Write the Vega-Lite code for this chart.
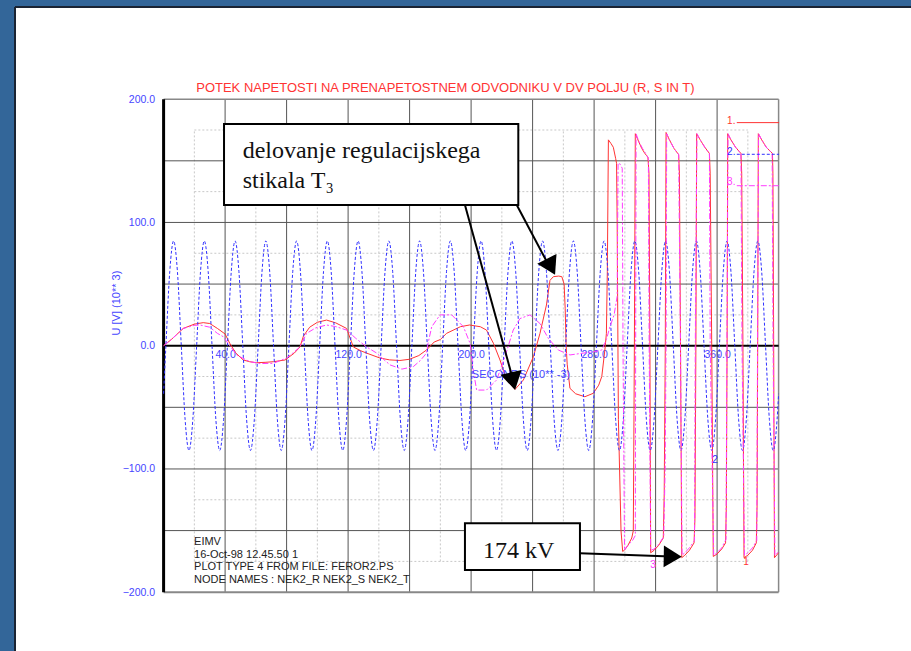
{
"$schema": "https://vega.github.io/schema/vega-lite/v6.json",
"width": 896, "height": 644,
"autosize": {"type": "none"},
"padding": {"left": 15, "top": 7, "right": 0, "bottom": 0},
"background": "#336699",
"config": {"view": {"fill": "white", "stroke": null}},
"datasets": {
"vgrid": [{"t":40},{"t":80},{"t":120},{"t":160},{"t":200},{"t":240},{"t":280},{"t":320},{"t":360}],
"hgrid": [{"v":-150},{"v":-100},{"v":-50},{"v":50},{"v":100},{"v":150}],
"vdot": [{"t":20},{"t":60},{"t":100},{"t":140},{"t":180},{"t":220},{"t":260},{"t":300},{"t":340},{"t":380}],
"hdot": [{"v":-175},{"v":-125},{"v":-75},{"v":-25},{"v":25},{"v":75},{"v":125},{"v":175}],
"blue": [{"t":0,"v":-39},
{"t":1.5,"v":0},{"t":4,"v":60},{"t":6.5,"v":85},{"t":9,"v":60},{"t":11.5,"v":0},{"t":14,"v":-60},{"t":16.5,"v":-85},{"t":19,"v":-60},
{"t":21.5,"v":0},{"t":24,"v":60},{"t":26.5,"v":85},{"t":29,"v":60},{"t":31.5,"v":0},{"t":34,"v":-60},{"t":36.5,"v":-85},{"t":39,"v":-60},
{"t":41.5,"v":0},{"t":44,"v":60},{"t":46.5,"v":85},{"t":49,"v":60},{"t":51.5,"v":0},{"t":54,"v":-60},{"t":56.5,"v":-85},{"t":59,"v":-60},
{"t":61.5,"v":0},{"t":64,"v":60},{"t":66.5,"v":85},{"t":69,"v":60},{"t":71.5,"v":0},{"t":74,"v":-60},{"t":76.5,"v":-85},{"t":79,"v":-60},
{"t":81.5,"v":0},{"t":84,"v":60},{"t":86.5,"v":85},{"t":89,"v":60},{"t":91.5,"v":0},{"t":94,"v":-60},{"t":96.5,"v":-85},{"t":99,"v":-60},
{"t":101.5,"v":0},{"t":104,"v":60},{"t":106.5,"v":85},{"t":109,"v":60},{"t":111.5,"v":0},{"t":114,"v":-60},{"t":116.5,"v":-85},{"t":119,"v":-60},
{"t":121.5,"v":0},{"t":124,"v":60},{"t":126.5,"v":85},{"t":129,"v":60},{"t":131.5,"v":0},{"t":134,"v":-60},{"t":136.5,"v":-85},{"t":139,"v":-60},
{"t":141.5,"v":0},{"t":144,"v":60},{"t":146.5,"v":85},{"t":149,"v":60},{"t":151.5,"v":0},{"t":154,"v":-60},{"t":156.5,"v":-85},{"t":159,"v":-60},
{"t":161.5,"v":0},{"t":164,"v":60},{"t":166.5,"v":85},{"t":169,"v":60},{"t":171.5,"v":0},{"t":174,"v":-60},{"t":176.5,"v":-85},{"t":179,"v":-60},
{"t":181.5,"v":0},{"t":184,"v":60},{"t":186.5,"v":85},{"t":189,"v":60},{"t":191.5,"v":0},{"t":194,"v":-60},{"t":196.5,"v":-85},{"t":199,"v":-60},
{"t":201.5,"v":0},{"t":204,"v":60},{"t":206.5,"v":85},{"t":209,"v":60},{"t":211.5,"v":0},{"t":214,"v":-60},{"t":216.5,"v":-85},{"t":219,"v":-60},
{"t":221.5,"v":0},{"t":224,"v":60},{"t":226.5,"v":85},{"t":229,"v":60},{"t":231.5,"v":0},{"t":234,"v":-60},{"t":236.5,"v":-85},{"t":239,"v":-60},
{"t":241.5,"v":0},{"t":244,"v":60},{"t":246.5,"v":85},{"t":249,"v":60},{"t":251.5,"v":0},{"t":254,"v":-60},{"t":256.5,"v":-85},{"t":259,"v":-60},
{"t":261.5,"v":0},{"t":264,"v":60},{"t":266.5,"v":85},{"t":269,"v":60},{"t":271.5,"v":0},{"t":274,"v":-60},{"t":276.5,"v":-85},{"t":279,"v":-60},
{"t":281.5,"v":0},{"t":284,"v":60},{"t":286.5,"v":85},{"t":289,"v":60},{"t":291.5,"v":0},{"t":294,"v":-60},{"t":296.5,"v":-85},{"t":299,"v":-60},
{"t":301.5,"v":0},{"t":304,"v":60},{"t":306.5,"v":85},{"t":309,"v":60},{"t":311.5,"v":0},{"t":314,"v":-60},{"t":316.5,"v":-85},{"t":319,"v":-60},
{"t":321.5,"v":0},{"t":324,"v":60},{"t":326.5,"v":85},{"t":329,"v":60},{"t":331.5,"v":0},{"t":334,"v":-60},{"t":336.5,"v":-85},{"t":339,"v":-60},
{"t":341.5,"v":0},{"t":344,"v":60},{"t":346.5,"v":85},{"t":349,"v":60},{"t":351.5,"v":0},{"t":354,"v":-60},{"t":356.5,"v":-85},{"t":359,"v":-60},
{"t":361.5,"v":0},{"t":364,"v":60},{"t":366.5,"v":85},{"t":369,"v":60},{"t":371.5,"v":0},{"t":374,"v":-60},{"t":376.5,"v":-85},{"t":379,"v":-60},
{"t":381.5,"v":0},{"t":384,"v":60},{"t":386.5,"v":85},{"t":389,"v":60},{"t":391.5,"v":0},{"t":394,"v":-60},{"t":396.5,"v":-85},{"t":399,"v":-60},
{"t":400,"v":-39}],
"red": [{"t":0,"v":0},{"t":5,"v":5},{"t":12.8,"v":14},{"t":20,"v":17.5},{"t":25.8,"v":18.7},{"t":30,"v":18},{"t":35,"v":14},{"t":40,"v":9.5},{"t":43,"v":2},{"t":47,"v":-6},{"t":51.8,"v":-11.6},{"t":56,"v":-13},{"t":60.5,"v":-13.8},{"t":66,"v":-13.5},{"t":71.4,"v":-13},{"t":79,"v":-11.6},{"t":85,"v":-6},{"t":88.7,"v":-1},{"t":91,"v":8},{"t":95,"v":15},{"t":100,"v":19},{"t":106,"v":20.8},{"t":112,"v":18.5},{"t":119,"v":14},{"t":123.4,"v":-1},{"t":128,"v":-4},{"t":132,"v":-6},{"t":140.7,"v":-10},{"t":147,"v":-11.5},{"t":153.7,"v":-12},{"t":160,"v":-11},{"t":166,"v":-8},{"t":171,"v":-3.5},{"t":176,"v":3},{"t":180,"v":5},{"t":184,"v":10},{"t":193,"v":15.4},{"t":199,"v":16.8},{"t":206,"v":15.4},{"t":210,"v":12.7},{"t":214.5,"v":2},{"t":218.8,"v":-11.6},{"t":223,"v":-27.8},{"t":228.6,"v":-35.4},{"t":234,"v":-27.8},{"t":240.5,"v":-9},{"t":244.8,"v":10},{"t":249,"v":33},{"t":251.3,"v":53},{"t":253.5,"v":56},{"t":257,"v":56.5},{"t":259,"v":56},{"t":260.5,"v":50},{"t":261.2,"v":30},{"t":261.8,"v":0},{"t":262.5,"v":-15},{"t":264.3,"v":-34.6},{"t":268,"v":-39},{"t":274,"v":-41.4},{"t":279.5,"v":-38.6},{"t":283,"v":-32},{"t":285,"v":-25},{"t":287,"v":-3.5},{"t":288,"v":10},{"t":288.6,"v":60},{"t":289.3,"v":167},{"t":291,"v":164},{"t":292.5,"v":161},{"t":294,"v":152},{"t":294.6,"v":148},{"t":295,"v":100},{"t":295.8,"v":-60},{"t":297.5,"v":-150},{"t":298.6,"v":-167},{"t":300,"v":-165.5},{"t":302,"v":-162},{"t":304.5,"v":-156},{"t":305.5,"v":-150},{"t":306.2,"v":0},{"t":306.8,"v":172},{"t":308.5,"v":167},{"t":311,"v":160},{"t":313,"v":156},{"t":315,"v":153},{"t":315.7,"v":140},{"t":316.3,"v":0},{"t":316.8,"v":-168},{"t":319,"v":-166},{"t":322,"v":-162},{"t":325,"v":-156},{"t":325.6,"v":-120},{"t":326.3,"v":0},{"t":326.8,"v":173},{"t":329,"v":167},{"t":332,"v":160},{"t":335,"v":155},{"t":335.5,"v":140},{"t":336.2,"v":0},{"t":337,"v":-172},{"t":339,"v":-170},{"t":342,"v":-166},{"t":345,"v":-160},{"t":345.6,"v":-140},{"t":346.2,"v":0},{"t":346.7,"v":172},{"t":349,"v":167},{"t":352,"v":161},{"t":355,"v":156},{"t":355.5,"v":140},{"t":356.5,"v":0},{"t":357.5,"v":-171},{"t":360,"v":-169},{"t":363,"v":-165},{"t":365.5,"v":-160},{"t":366,"v":-130},{"t":366.5,"v":0},{"t":366.9,"v":172},{"t":369,"v":167},{"t":372,"v":161},{"t":375.5,"v":156},{"t":376,"v":140},{"t":376.8,"v":0},{"t":377.5,"v":-172},{"t":380,"v":-170},{"t":383,"v":-166},{"t":385.5,"v":-160},{"t":386,"v":-130},{"t":386.4,"v":0},{"t":386.8,"v":172},{"t":389,"v":167},{"t":392,"v":161},{"t":396,"v":156},{"t":396.3,"v":140},{"t":396.8,"v":0},{"t":397.3,"v":-172},{"t":400,"v":-168}],
"mag": [{"t":0,"v":0},{"t":5,"v":5},{"t":12.8,"v":14},{"t":20,"v":16.5},{"t":23.7,"v":16.8},{"t":30,"v":15},{"t":35,"v":10},{"t":38.8,"v":7.3},{"t":43,"v":0},{"t":48,"v":-8},{"t":56.2,"v":-13},{"t":63,"v":-14.5},{"t":71.4,"v":-14.3},{"t":80,"v":-10},{"t":84,"v":-6},{"t":88.7,"v":-1},{"t":93,"v":10},{"t":99,"v":14.5},{"t":106,"v":16.8},{"t":112,"v":15.5},{"t":119,"v":12.7},{"t":125,"v":6},{"t":132,"v":-1},{"t":138.6,"v":-6},{"t":143,"v":-11},{"t":147.3,"v":-15.6},{"t":155,"v":-19},{"t":162.4,"v":-17},{"t":167,"v":-12},{"t":171,"v":-6},{"t":172,"v":2},{"t":174.4,"v":15.4},{"t":179.8,"v":25},{"t":187.4,"v":25},{"t":195,"v":15.4},{"t":199.3,"v":2},{"t":201.4,"v":-20},{"t":203.6,"v":-36},{"t":210,"v":-36},{"t":216.6,"v":-27.8},{"t":222,"v":-9},{"t":227.4,"v":12.7},{"t":231.8,"v":22},{"t":238.3,"v":25},{"t":244.8,"v":18},{"t":250.2,"v":6},{"t":256.7,"v":-3.5},{"t":264.3,"v":-7.5},{"t":273,"v":-6},{"t":279.5,"v":-5},{"t":285,"v":-3.5},{"t":288,"v":5},{"t":290.3,"v":15.4},{"t":293,"v":25},{"t":295,"v":40},{"t":295.6,"v":148},{"t":296.5,"v":148},{"t":298.3,"v":144},{"t":298.8,"v":0},{"t":299.8,"v":-166},{"t":301.2,"v":-163},{"t":305,"v":-158},{"t":306.8,"v":-154},{"t":307.3,"v":172},{"t":309,"v":166},{"t":311.5,"v":160},{"t":313.5,"v":156},{"t":315.3,"v":152},{"t":315.8,"v":0},{"t":316.8,"v":-166},{"t":319,"v":-165},{"t":322,"v":-161},{"t":325.3,"v":-155},{"t":326.2,"v":-100},{"t":326.8,"v":0},{"t":327.2,"v":172},{"t":329,"v":167},{"t":332,"v":160},{"t":335,"v":155},{"t":335.4,"v":100},{"t":336.2,"v":0},{"t":337.2,"v":-170},{"t":339,"v":-168},{"t":342,"v":-164},{"t":345.3,"v":-158},{"t":345.8,"v":0},{"t":346.9,"v":172},{"t":349,"v":167},{"t":352,"v":161},{"t":355,"v":156},{"t":355.5,"v":0},{"t":357.8,"v":-170},{"t":360,"v":-168},{"t":363,"v":-164},{"t":365.8,"v":-157},{"t":366.4,"v":0},{"t":367.1,"v":172},{"t":369,"v":167},{"t":372,"v":161},{"t":375.5,"v":156},{"t":376.2,"v":0},{"t":377.8,"v":-170},{"t":380,"v":-168},{"t":383,"v":-164},{"t":385.8,"v":-158},{"t":386.3,"v":0},{"t":387,"v":172},{"t":389,"v":167},{"t":392,"v":161},{"t":395.8,"v":156},{"t":396.4,"v":0},{"t":397.6,"v":-170},{"t":400,"v":-167}]
},
"layer": [
{"data": {"name": "hdot"}, "mark": {"type": "rule", "color": "#c8c8c8", "strokeWidth": 1, "strokeDash": [2, 2]},
 "encoding": {"y": {"field": "v", "type": "quantitative", "scale": {"domain": [-247.7, 274.8], "nice": false, "zero": false},
   "axis": {"values": [-200, -100, 0, 100, 200], "format": ".1f", "offset": -148.6, "domain": false, "ticks": false, "grid": false, "labelColor": "#4646ff", "labelFont": "Liberation Sans", "labelFontSize": 10.5, "labelPadding": 9, "title": null}},
  "x": {"datum": 20}, "x2": {"datum": 380}}},
{"data": {"name": "vdot"}, "mark": {"type": "rule", "color": "#c8c8c8", "strokeWidth": 1, "strokeDash": [2, 2]},
 "encoding": {"x": {"field": "t", "type": "quantitative", "scale": {"domain": [-96.65, 486.11], "nice": false, "zero": false},
   "axis": {"values": [40, 120, 200, 280, 360], "format": ".1f", "offset": -305.3, "domain": false, "ticks": false, "grid": false, "labelColor": "#4646ff", "labelFont": "Liberation Sans", "labelFontSize": 10.5, "labelPadding": 4, "title": null}},
  "y": {"datum": -175}, "y2": {"datum": 175}}},
{"data": {"name": "vgrid"}, "mark": {"type": "rule", "color": "#555555", "strokeWidth": 1},
 "encoding": {"x": {"field": "t", "type": "quantitative"}, "y": {"datum": -200}, "y2": {"datum": 200}}},
{"data": {"name": "hgrid"}, "mark": {"type": "rule", "color": "#555555", "strokeWidth": 1},
 "encoding": {"y": {"field": "v", "type": "quantitative"}, "x": {"datum": 0}, "x2": {"datum": 400}}},
{"data": {"values": [{}]}, "mark": {"type": "rule", "color": "#888888", "strokeWidth": 1.5},
 "encoding": {"x": {"datum": 400}, "y": {"datum": -200}, "y2": {"datum": 200}}},
{"data": {"values": [{}]}, "mark": {"type": "rule", "color": "#888888", "strokeWidth": 1.5},
 "encoding": {"y": {"datum": 200}, "x": {"datum": 0}, "x2": {"datum": 400}}},
{"data": {"values": [{}]}, "mark": {"type": "rule", "color": "#888888", "strokeWidth": 2},
 "encoding": {"y": {"datum": -200}, "x": {"datum": 0}, "x2": {"datum": 400}}},
{"data": {"values": [{}]}, "mark": {"type": "rule", "color": "#000000", "strokeWidth": 2},
 "encoding": {"y": {"datum": 0}, "x": {"datum": 0}, "x2": {"datum": 400}}},
{"data": {"values": [{}]}, "mark": {"type": "rule", "color": "#000000", "strokeWidth": 3},
 "encoding": {"x": {"datum": 0}, "y": {"datum": -200}, "y2": {"datum": 200}}},
{"data": {"values": [{}]}, "mark": {"type": "rule", "color": "#1a2433", "strokeWidth": 2},
 "encoding": {"x": {"datum": -96.65}, "y": {"datum": -247.7}, "y2": {"datum": 274.8}}},
{"data": {"values": [{}]}, "mark": {"type": "rule", "color": "#1a2433", "strokeWidth": 2},
 "encoding": {"y": {"datum": 274.8}, "x": {"datum": -96.65}, "x2": {"datum": 486.11}}},
{"data": {"name": "red"}, "mark": {"type": "line", "color": "#ff3333", "strokeWidth": 1, "interpolate": "linear"},
 "encoding": {"x": {"field": "t", "type": "quantitative"}, "y": {"field": "v", "type": "quantitative"}}},
{"data": {"name": "blue"}, "mark": {"type": "line", "color": "#3030ff", "strokeWidth": 1, "strokeDash": [3, 2], "interpolate": "monotone"},
 "encoding": {"x": {"field": "t", "type": "quantitative"}, "y": {"field": "v", "type": "quantitative"}}},
{"data": {"name": "mag"}, "mark": {"type": "line", "color": "#ff3cff", "strokeWidth": 1, "strokeDash": [6, 2, 2, 2], "interpolate": "linear"},
 "encoding": {"x": {"field": "t", "type": "quantitative"}, "y": {"field": "v", "type": "quantitative"}}},
{"data": {"values": [{"label": "POTEK NAPETOSTI NA PRENAPETOSTNEM ODVODNIKU V DV POLJU (R, S IN T)"}]},
 "mark": {"type": "text", "color": "#ff3333", "font": "Liberation Sans", "fontSize": 13, "align": "center", "baseline": "middle"},
 "encoding": {"text": {"field": "label"}, "x": {"datum": 183.3}, "y": {"datum": 209.1}}},
{"data": {"values": [{"label": "U [V] (10** 3)"}]},
 "mark": {"type": "text", "color": "#4646ff", "font": "Liberation Sans", "fontSize": 11, "align": "center", "baseline": "middle", "angle": 270},
 "encoding": {"text": {"field": "label"}, "x": {"datum": -30.3}, "y": {"datum": 34.6}}},
{"data": {"values": [{"label": "SECONDS (10** -3)"}]},
 "mark": {"type": "text", "color": "#4646ff", "font": "Liberation Sans", "fontSize": 11, "align": "left", "baseline": "middle"},
 "encoding": {"text": {"field": "label"}, "x": {"datum": 200.5}, "y": {"datum": -24}}},
{"data": {"values": [{"label": "EIMV\n16-Oct-98  12.45.50   1\nPLOT TYPE  4  FROM FILE: FEROR2.PS\nNODE NAMES : NEK2_R  NEK2_S  NEK2_T"}]},
 "mark": {"type": "text", "color": "#222222", "font": "Liberation Sans", "fontSize": 11, "align": "left", "baseline": "alphabetic", "lineBreak": "\n", "lineHeight": 12.5},
 "encoding": {"text": {"field": "label"}, "x": {"datum": 19.8}, "y": {"datum": -162.1}}},
{"data": {"values": [{}]}, "mark": {"type": "rule", "color": "#ff3333", "strokeWidth": 1},
 "encoding": {"y": {"datum": 181}, "x": {"datum": 372.8}, "x2": {"datum": 400.3}}},
{"data": {"values": [{}]}, "mark": {"type": "rule", "color": "#3030ff", "strokeWidth": 1, "strokeDash": [3, 2]},
 "encoding": {"y": {"datum": 155.3}, "x": {"datum": 372.8}, "x2": {"datum": 400.3}}},
{"data": {"values": [{}]}, "mark": {"type": "rule", "color": "#ff3cff", "strokeWidth": 1, "strokeDash": [6, 2, 2, 2]},
 "encoding": {"y": {"datum": 129.8}, "x": {"datum": 372.8}, "x2": {"datum": 400.3}}},
{"data": {"values": [{"label": "1."}]}, "mark": {"type": "text", "color": "#ff3333", "font": "Liberation Sans", "fontSize": 10, "align": "left", "baseline": "middle"},
 "encoding": {"text": {"field": "label"}, "x": {"datum": 366.5}, "y": {"datum": 182}}},
{"data": {"values": [{"label": "2."}]}, "mark": {"type": "text", "color": "#3030ff", "font": "Liberation Sans", "fontSize": 10, "align": "left", "baseline": "middle"},
 "encoding": {"text": {"field": "label"}, "x": {"datum": 366.5}, "y": {"datum": 157.4}}},
{"data": {"values": [{"label": "3."}]}, "mark": {"type": "text", "color": "#ff3cff", "font": "Liberation Sans", "fontSize": 10, "align": "left", "baseline": "middle"},
 "encoding": {"text": {"field": "label"}, "x": {"datum": 366.5}, "y": {"datum": 133}}},
{"data": {"values": [{"label": "2"}]}, "mark": {"type": "text", "color": "#3030ff", "font": "Liberation Sans", "fontSize": 10, "align": "center", "baseline": "middle"},
 "encoding": {"text": {"field": "label"}, "x": {"datum": 358.7}, "y": {"datum": -92.6}}},
{"data": {"values": [{"label": "3"}]}, "mark": {"type": "text", "color": "#ff3cff", "font": "Liberation Sans", "fontSize": 10, "align": "center", "baseline": "middle"},
 "encoding": {"text": {"field": "label"}, "x": {"datum": 318.4}, "y": {"datum": -178}}},
{"data": {"values": [{"label": "1"}]}, "mark": {"type": "text", "color": "#ff3333", "font": "Liberation Sans", "fontSize": 10, "align": "center", "baseline": "middle"},
 "encoding": {"text": {"field": "label"}, "x": {"datum": 378.8}, "y": {"datum": -175.5}}},
{"data": {"values": [{}]}, "mark": {"type": "rect", "fill": "white", "stroke": "black", "strokeWidth": 2},
 "encoding": {"x": {"datum": 39.3}, "x2": {"datum": 230.7}, "y": {"datum": 179.9}, "y2": {"datum": 114.2}}},
{"data": {"values": [{"label": "delovanje regulacijskega\nstikala T₃"}]},
 "mark": {"type": "text", "color": "#111111", "font": "Liberation Serif", "fontSize": 24, "align": "left", "baseline": "alphabetic", "lineBreak": "\n", "lineHeight": 30},
 "encoding": {"text": {"field": "label"}, "x": {"datum": 51.4}, "y": {"datum": 152}}},
{"data": {"values": [{}]}, "mark": {"type": "rect", "fill": "white", "stroke": "black", "strokeWidth": 2},
 "encoding": {"x": {"datum": 196}, "x2": {"datum": 270.8}, "y": {"datum": -144.1}, "y2": {"datum": -182}}},
{"data": {"values": [{"label": "174 kV"}]},
 "mark": {"type": "text", "color": "#111111", "font": "Liberation Serif", "fontSize": 24, "align": "center", "baseline": "alphabetic"},
 "encoding": {"text": {"field": "label"}, "x": {"datum": 231}, "y": {"datum": -172.5}}},
{"data": {"values": [{}]}, "mark": {"type": "rule", "color": "black", "strokeWidth": 2},
 "encoding": {"x": {"datum": 196}, "y": {"datum": 114.2}, "x2": {"datum": 227.8}, "y2": {"datum": -30}}},
{"data": {"values": [{}]}, "mark": {"type": "rule", "color": "black", "strokeWidth": 2},
 "encoding": {"x": {"datum": 229.7}, "y": {"datum": 114.2}, "x2": {"datum": 251}, "y2": {"datum": 64}}},
{"data": {"values": [{}]}, "mark": {"type": "rule", "color": "black", "strokeWidth": 2},
 "encoding": {"x": {"datum": 270.8}, "y": {"datum": -168.4}, "x2": {"datum": 330}, "y2": {"datum": -171}}},
{"data": {"values": [{}]}, "mark": {"type": "point", "shape": "M0,0L1.2,2L-1.2,2Z", "filled": true, "color": "black", "opacity": 1, "size": 324, "angle": 167},
 "encoding": {"x": {"datum": 228.6}, "y": {"datum": -35.9}}},
{"data": {"values": [{}]}, "mark": {"type": "point", "shape": "M0,0L1.2,2L-1.2,2Z", "filled": true, "color": "black", "opacity": 1, "size": 324, "angle": 153},
 "encoding": {"x": {"datum": 254.6}, "y": {"datum": 57.5}}},
{"data": {"values": [{}]}, "mark": {"type": "point", "shape": "M0,0L1.2,2L-1.2,2Z", "filled": true, "color": "black", "opacity": 1, "size": 324, "angle": 91},
 "encoding": {"x": {"datum": 337}, "y": {"datum": -171.2}}}
]
}
